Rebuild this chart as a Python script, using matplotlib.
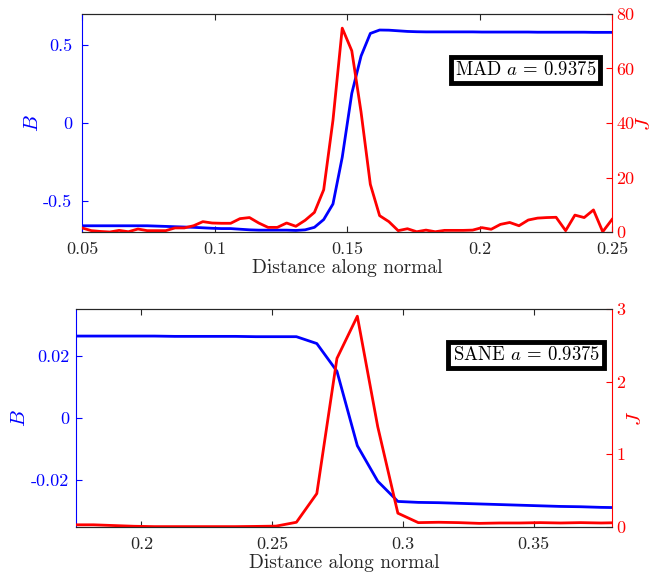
import matplotlib
matplotlib.use('Agg')
import matplotlib.pyplot as plt

plt.rcParams['font.family'] = 'serif'
plt.rcParams['font.serif'] = ['cmr10']
plt.rcParams['mathtext.fontset'] = 'cm'
plt.rcParams['axes.unicode_minus'] = False
plt.rcParams['axes.formatter.use_mathtext'] = True

# MAD run
x_mad = [0.0500, 0.0535, 0.0570, 0.0605, 0.0640, 0.0675, 0.0711, 0.0746, 0.0781, 0.0816,
         0.0851, 0.0886, 0.0921, 0.0956, 0.0991, 0.1026, 0.1061, 0.1096, 0.1132, 0.1167,
         0.1202, 0.1237, 0.1272, 0.1307, 0.1342, 0.1377, 0.1412, 0.1447, 0.1482, 0.1518,
         0.1553, 0.1588, 0.1623, 0.1658, 0.1693, 0.1728, 0.1763, 0.1798, 0.1833, 0.1868,
         0.1904, 0.1939, 0.1974, 0.2009, 0.2044, 0.2079, 0.2114, 0.2149, 0.2184, 0.2219,
         0.2254, 0.2289, 0.2325, 0.2360, 0.2395, 0.2430, 0.2465, 0.2500]
B_mad = [-0.660, -0.660, -0.660, -0.660, -0.660, -0.660, -0.660, -0.660, -0.662, -0.664,
         -0.666, -0.668, -0.670, -0.673, -0.676, -0.678, -0.678, -0.682, -0.686, -0.688,
         -0.688, -0.688, -0.688, -0.690, -0.686, -0.670, -0.620, -0.520, -0.220, 0.190,
         0.430, 0.575, 0.597, 0.596, 0.592, 0.588, 0.586, 0.585, 0.585, 0.585,
         0.585, 0.585, 0.585, 0.584, 0.584, 0.584, 0.584, 0.584, 0.584, 0.583,
         0.583, 0.583, 0.583, 0.583, 0.583, 0.582, 0.582, 0.582]
J_mad = [1.5, 0.5, 0.2, 0.0, 0.6, 0.1, 1.1, 0.5, 0.5, 0.5,
         1.5, 1.5, 2.3, 3.8, 3.3, 3.2, 3.2, 4.9, 5.3, 3.3,
         1.7, 1.7, 3.3, 2.1, 4.3, 7.2, 15.5, 41.0, 74.8, 66.5,
         44.0, 17.5, 6.0, 3.8, 0.5, 1.2, 0.1, 0.7, 0.1, 0.6,
         0.6, 0.6, 0.7, 1.6, 1.0, 2.8, 3.5, 2.3, 4.4, 5.1,
         5.3, 5.4, 0.5, 6.2, 5.3, 8.1, 0.1, 4.6]

# SANE run
x_sane = [0.1739, 0.1817, 0.1894, 0.1972, 0.2050, 0.2127, 0.2205, 0.2282, 0.2360, 0.2438,
          0.2515, 0.2593, 0.2671, 0.2748, 0.2826, 0.2904, 0.2981, 0.3059, 0.3137, 0.3214,
          0.3292, 0.3370, 0.3447, 0.3525, 0.3603, 0.3680, 0.3758, 0.3836]
B_sane = [0.0263, 0.0263, 0.0263, 0.0263, 0.0263, 0.0262, 0.0262, 0.0262, 0.0262, 0.0261,
          0.0261, 0.0261, 0.0239, 0.0150, -0.0089, -0.0203, -0.0268, -0.0271, -0.0272, -0.0274,
          -0.0276, -0.0278, -0.0280, -0.0282, -0.0284, -0.0285, -0.0287, -0.0288]
J_sane = [0.03, 0.03, 0.02, 0.01, 0.005, 0.005, 0.005, 0.005, 0.005, 0.008,
          0.012, 0.065, 0.46, 2.32, 2.90, 1.38, 0.19, 0.06, 0.065, 0.06,
          0.05, 0.055, 0.055, 0.06, 0.055, 0.06, 0.055, 0.06]

panels = [
    dict(x=x_mad, B=B_mad, J=J_mad, pos=[0.1254, 0.5951, 0.8104, 0.3805], ypad=7,
         xlim=(0.05, 0.25), xt=[0.05, 0.1, 0.15, 0.2, 0.25], xtl=['0.05', '0.1', '0.15', '0.2', '0.25'],
         blim=(-0.7, 0.7), bt=[-0.5, 0, 0.5], btl=['-0.5', '0', '0.5'],
         jlim=(0, 80), jt=[0, 20, 40, 60, 80], jtl=['0', '20', '40', '60', '80'],
         label=r'MAD $a\,=\,0.9375$', tpos=(0.97, 0.785)),
    dict(x=x_sane, B=B_sane, J=J_sane, pos=[0.1162, 0.0803, 0.8196, 0.3805], ypad=5,
         xlim=(0.175, 0.38), xt=[0.2, 0.25, 0.3, 0.35], xtl=['0.2', '0.25', '0.3', '0.35'],
         blim=(-0.035, 0.035), bt=[-0.02, 0, 0.02], btl=['-0.02', '0', '0.02'],
         jlim=(0, 3), jt=[0, 1, 2, 3], jtl=['0', '1', '2', '3'],
         label=r'SANE $a\,=\,0.9375$', tpos=(0.977, 0.83)),
]

fig = plt.figure(figsize=(6.54, 5.73), dpi=100)
gray = (0.15, 0.15, 0.15)
for p in panels:
    ax = fig.add_axes(p['pos'])
    ax.plot(p['x'], p['B'], color='b', linewidth=2)
    ax.set_xlim(p['xlim'])
    ax.set_ylim(p['blim'])
    ax.set_xticks(p['xt'])
    ax.set_xticklabels(p['xtl'])
    ax.set_yticks(p['bt'])
    ax.set_yticklabels(p['btl'])
    ax.set_xlabel('Distance along normal', fontsize=14, color=gray, labelpad=1.5)
    ax.set_ylabel('$B$', fontsize=15, color='b', labelpad=1)
    ax.tick_params(axis='x', direction='in', top=True, colors=gray, labelsize=13, length=4, pad=7)
    ax.tick_params(axis='y', direction='in', colors='b', labelsize=13, length=4, pad=p['ypad'])
    ax.spines['left'].set_color('b')
    ax.spines['top'].set_color(gray)
    ax.spines['bottom'].set_color(gray)
    ax.spines['right'].set_visible(False)

    ax2 = ax.twinx()
    ax2.plot(p['x'], p['J'], color='r', linewidth=2)
    ax2.set_ylim(p['jlim'])
    ax2.set_yticks(p['jt'])
    ax2.set_yticklabels(p['jtl'])
    ax2.set_ylabel('$J$', fontsize=15, color='r', labelpad=1)
    ax2.tick_params(axis='y', direction='in', colors='r', labelsize=13, length=4, pad=3)
    ax2.spines['right'].set_color('r')
    ax2.spines['left'].set_visible(False)
    ax2.spines['top'].set_color(gray)
    ax2.spines['bottom'].set_color(gray)
    ax2.text(p['tpos'][0], p['tpos'][1], p['label'], transform=ax2.transAxes,
             ha='right', va='top', fontsize=13.5, zorder=10,
             bbox=dict(boxstyle='square,pad=0.22', facecolor='white', edgecolor='black', linewidth=3.5))

fig.savefig('out.png', dpi=100)
